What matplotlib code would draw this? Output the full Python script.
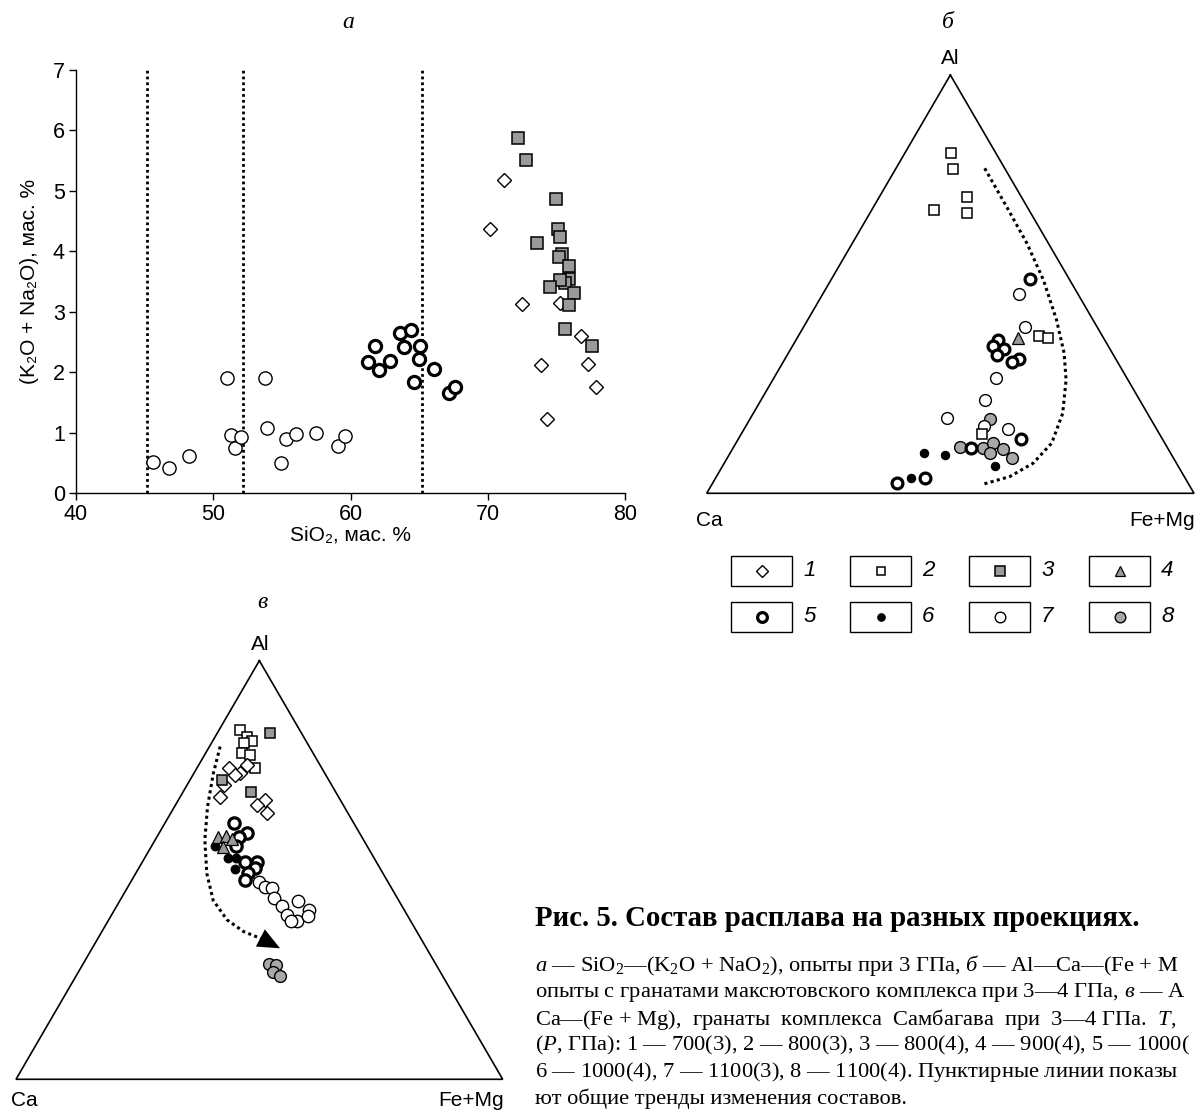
import numpy as np
import matplotlib
matplotlib.use("Agg")
import matplotlib.pyplot as plt
from matplotlib.patches import Rectangle, FancyArrowPatch

plt.rcParams['font.family'] = ['Liberation Sans', 'DejaVu Sans']
plt.rcParams['mathtext.fontset'] = 'custom'
plt.rcParams['mathtext.rm'] = 'Liberation Serif'
plt.rcParams['mathtext.it'] = 'Liberation Serif:italic'
plt.rcParams['mathtext.bf'] = 'Liberation Serif:bold'

# ---------------- Panel a: SiO2 vs (K2O+Na2O) ----------------
a_boundaries = [45.2, 52.2, 65.2]
a_xticks = [40, 50, 60, 70, 80]
a_yticks = [0, 1, 2, 3, 4, 5, 6, 7]

a_s7_x = [45.6, 46.8, 48.2, 51.0, 51.3, 51.6, 52.0, 53.8, 53.9, 54.9, 55.3, 56.0, 57.5, 59.1, 59.6]
a_s7_y = [0.51, 0.42, 0.61, 1.90, 0.96, 0.74, 0.92, 1.91, 1.07, 0.49, 0.89, 0.98, 0.99, 0.77, 0.94]
a_s5_x = [61.3, 61.8, 62.1, 62.9, 63.6, 63.9, 64.4, 64.6, 65.0, 65.1, 66.1, 67.2, 67.6]
a_s5_y = [2.16, 2.44, 2.04, 2.19, 2.65, 2.42, 2.70, 1.84, 2.22, 2.43, 2.06, 1.66, 1.76]
a_s1_x = [70.2, 71.2, 72.5, 73.9, 74.3, 75.3, 76.8, 77.3, 77.9]
a_s1_y = [4.37, 5.18, 3.13, 2.12, 1.22, 3.15, 2.59, 2.13, 1.76]
a_s3_x = [72.2, 72.8, 75.0, 75.1, 75.3, 73.6, 75.4, 75.2, 75.9, 75.9, 75.6, 75.3, 74.5, 76.3, 75.9, 75.6, 77.6]
a_s3_y = [5.88, 5.51, 4.86, 4.37, 4.24, 4.13, 3.96, 3.90, 3.76, 3.54, 3.47, 3.52, 3.41, 3.31, 3.11, 2.72, 2.44]

# ---------------- Panel b: Al-Ca-(Fe+Mg), Maksyutov garnets (values in %) ----------------
b_s2_al = [81.3, 77.5, 70.8, 67.7, 67.1, 37.6, 37.1, 14.2]
b_s2_fm = [9.4, 11.8, 18.1, 12.8, 19.8, 49.4, 51.4, 49.3]
b_s4_al = [37.1]
b_s4_fm = [45.4]
b_s5_al = [51.3, 36.7, 35.3, 34.4, 33.1, 32.2, 31.5, 13.1, 10.9, 2.5, 3.6]
b_s5_fm = [40.6, 41.5, 41.0, 43.9, 43.0, 47.9, 47.0, 57.9, 48.7, 37.9, 42.9]
b_s6_al = [9.6, 9.2, 3.6, 6.5]
b_s6_fm = [39.7, 44.2, 40.1, 55.9]
b_s7_al = [47.6, 39.8, 27.5, 22.2, 18.1, 16.2, 15.3]
b_s7_fm = [40.3, 45.4, 45.6, 46.1, 40.3, 48.9, 54.1]
b_s8_al = [17.7, 11.0, 10.9, 12.0, 10.5, 9.6, 8.4]
b_s8_fm = [49.3, 46.4, 51.3, 52.8, 55.5, 53.3, 58.4]
b_trend_al = [77.7, 68.5, 59.8, 51.0, 41.4, 33.5, 27.1, 19.1, 12.0, 7.2, 4.0, 2.2]
b_trend_fm = [18.2, 27.3, 35.8, 43.6, 51.1, 56.6, 60.2, 63.5, 64.8, 63.4, 60.2, 55.7]

# ---------------- Panel v: Al-Ca-(Fe+Mg), Sambagawa garnets (values in %) ----------------
v_s2_al = [83.4, 81.7, 80.9, 80.3, 77.9, 77.5, 74.3]
v_s2_fm = [4.3, 6.6, 8.0, 6.6, 7.4, 9.3, 12.0]
v_s3_al = [82.8, 71.5, 68.7]
v_s3_fm = [10.7, 6.5, 13.9]
v_s1_al = [74.3, 75.1, 73.1, 72.7, 70.3, 67.5, 66.7, 65.5, 63.5]
v_s1_fm = [6.7, 9.9, 9.5, 8.7, 7.6, 8.1, 17.8, 16.7, 19.8]
v_s5_al = [61.3, 58.9, 58.0, 55.7, 52.0, 51.8, 50.4, 49.2, 47.5]
v_s5_fm = [14.1, 18.0, 16.9, 17.4, 23.6, 21.2, 23.9, 23.1, 23.4]
v_s4_al = [58.0, 58.1, 57.3, 55.6]
v_s4_fm = [12.6, 14.2, 15.7, 14.8]
v_s6_al = [55.8, 52.8, 52.8, 50.2]
v_s6_fm = [13.0, 17.2, 18.8, 19.8]
v_s7_al = [47.2, 46.0, 45.8, 43.2, 41.4, 42.7, 39.3, 37.7, 40.4, 39.0, 37.7]
v_s7_fm = [26.4, 28.2, 29.6, 31.5, 33.9, 36.6, 36.1, 38.8, 39.9, 40.4, 37.6]
v_s8_al = [27.5, 27.3, 25.7, 24.7]
v_s8_fm = [38.3, 39.8, 40.0, 41.8]
v_trend_al = [79.5, 73.1, 65.1, 57.2, 49.2, 42.8, 38.1, 35.3, 33.4, 31.3]
v_trend_fm = [2.2, 4.0, 6.8, 10.2, 14.6, 19.1, 24.3, 29.1, 34.1, 38.6]

legend_labels = ['1', '2', '3', '4', '5', '6', '7', '8']

GREY_SQ = '#9a9a9a'
GREY_C = '#a8a8a8'

def style(kind, scale=1.0):
    st = {
        '1': dict(marker='D', ms=6.6, mfc='white', mec='black', mew=1.0),
        '2': dict(marker='s', ms=7.0, mfc='white', mec='black', mew=1.1),
        '3': dict(marker='s', ms=7.5, mfc=GREY_SQ, mec='black', mew=1.1),
        '4': dict(marker='^', ms=8.0, mfc=GREY_SQ, mec='black', mew=0.9),
        '5': dict(marker='o', ms=7.8, mfc='white', mec='black', mew=2.3),
        '6': dict(marker='o', ms=6.0, mfc='black', mec='black', mew=0.8),
        '7': dict(marker='o', ms=8.5, mfc='white', mec='black', mew=1.0),
        '8': dict(marker='o', ms=8.5, mfc=GREY_C, mec='black', mew=1.0),
    }[kind]
    st = dict(st)
    st['ms'] = st['ms'] * scale
    return st

def tern_xy(al, fm):
    al = np.asarray(al, float) / 100.0
    fm = np.asarray(fm, float) / 100.0
    return fm + al / 2.0, al * np.sqrt(3) / 2.0

W, H = 1196, 1112
fig = plt.figure(figsize=(W / 100, H / 100), dpi=100)

def px_axes(left, top, right, bottom):
    return fig.add_axes([left / W, 1 - bottom / H, (right - left) / W, (bottom - top) / H])

# ---------- Panel a ----------
axa = px_axes(76, 70, 625, 493)
axa.set_xlim(40, 80)
axa.set_ylim(0, 7)
for xb in a_boundaries:
    axa.axvline(xb, color='black', lw=2.0, ls=(0, (1, 1.1)), zorder=1)
axa.plot(a_s7_x, a_s7_y, ls='none', clip_on=False, zorder=3, **style('7', 1.12))
axa.plot(a_s5_x, a_s5_y, ls='none', clip_on=False, zorder=3, **style('5', 1.12))
axa.plot(a_s1_x, a_s1_y, ls='none', clip_on=False, zorder=3, **style('1', 1.12))
axa.plot(a_s3_x, a_s3_y, ls='none', clip_on=False, zorder=3, **style('3', 1.12))
axa.set_xticks(a_xticks)
axa.set_yticks(a_yticks)
for s in ['top', 'right']:
    axa.spines[s].set_visible(False)
for s in ['left', 'bottom']:
    axa.spines[s].set_linewidth(1.0)
axa.tick_params(direction='out', length=5, width=1.0, labelsize=15.5, pad=3)
axa.set_xlabel('SiO₂, мас. %', fontsize=15, labelpad=0)
axa.set_ylabel('(K₂O + Na₂O), мас. %', fontsize=15, labelpad=10)

# ---------- Ternary panels ----------
def ternary(left, top, right, bottom):
    ax = px_axes(left, top, right, bottom)
    ax.set_xlim(0, 1)
    ax.set_ylim(0, np.sqrt(3) / 2)
    ax.axis('off')
    tx, ty = tern_xy([100, 0, 0, 100], [0, 0, 100, 0])
    ax.plot(tx, ty, color='black', lw=1.2, clip_on=False, zorder=1,
            solid_joinstyle='miter')
    return ax

def tplot(ax, al, fm, kind, z, scale=1.0):
    x, y = tern_xy(al, fm)
    ax.plot(x, y, ls='none', clip_on=False, zorder=z, **style(kind, scale))

axb = ternary(706.7, 75, 1194, 493.3)
bx, by = tern_xy(b_trend_al, b_trend_fm)
axb.plot(bx, by, color='black', lw=2.2, ls=(0, (1, 1.1)), clip_on=False, zorder=2)
tplot(axb, b_s8_al, b_s8_fm, '8', 3, 1.0)
tplot(axb, b_s7_al, b_s7_fm, '7', 4, 1.0)
tplot(axb, b_s6_al, b_s6_fm, '6', 5, 1.0)
tplot(axb, b_s5_al, b_s5_fm, '5', 6, 1.0)
tplot(axb, b_s4_al, b_s4_fm, '4', 7, 1.0)
tplot(axb, b_s2_al, b_s2_fm, '2', 8, 1.0)

axv = ternary(16, 660.7, 502.7, 1079.3)
vx, vy = tern_xy(v_trend_al, v_trend_fm)
axv.plot(vx[:-1], vy[:-1], color='black', lw=2.2, ls=(0, (1, 1.1)), clip_on=False, zorder=2)
# arrow head at the end of the trend, pointing along the last segment
start = (vx[-1] - 2.0 * (vx[-1] - vx[-2]), vy[-1] - 2.0 * (vy[-1] - vy[-2]))
arr = FancyArrowPatch(start, (vx[-1], vy[-1]),
                      arrowstyle='-|>,head_length=1.6,head_width=0.7',
                      mutation_scale=10, fc='black', ec='none', lw=0,
                      shrinkA=0, shrinkB=0, zorder=2)
axv.add_patch(arr)
tplot(axv, v_s7_al, v_s7_fm, '7', 3, 1.05)
tplot(axv, v_s5_al, v_s5_fm, '5', 4, 1.05)
tplot(axv, v_s6_al, v_s6_fm, '6', 5, 1.05)
tplot(axv, v_s4_al, v_s4_fm, '4', 6, 1.05)
tplot(axv, v_s2_al, v_s2_fm, '2', 7, 1.1)
tplot(axv, v_s1_al, v_s1_fm, '1', 8, 1.1)
tplot(axv, v_s3_al, v_s3_fm, '3', 9, 1.05)
tplot(axv, v_s8_al, v_s8_fm, '8', 10, 1.0)

# ---------- Overlay (pixel coordinates) for text and legend ----------
ov = fig.add_axes([0, 0, 1, 1], zorder=-1)
ov.set_xlim(0, W)
ov.set_ylim(H, 0)
ov.axis('off')
ov.patch.set_alpha(0)

serif = ['Liberation Serif', 'DejaVu Serif']
sans = ['Liberation Sans', 'DejaVu Sans']

ov.text(348, 22, 'а', fontsize=17, family=serif, style='italic', ha='center', va='center')
ov.text(948, 22, 'б', fontsize=17, family=serif, style='italic', ha='center', va='center')
ov.text(262, 603, 'в', fontsize=17, family=serif, style='italic', ha='center', va='center')

ov.text(950, 58, 'Al', fontsize=15, family=sans, ha='center', va='center')
ov.text(696, 521, 'Ca', fontsize=15, family=sans, ha='left', va='center')
ov.text(1129, 521, 'Fe+Mg', fontsize=15, family=sans, ha='left', va='center')
ov.text(260, 645, 'Al', fontsize=15, family=sans, ha='center', va='center')
ov.text(11, 1101, 'Ca', fontsize=15, family=sans, ha='left', va='center')
ov.text(438, 1101, 'Fe+Mg', fontsize=15, family=sans, ha='left', va='center')

# legend
box_lefts = [731, 850, 969, 1089]
row_centers = [571, 617]
bw, bh = 61, 30
for i, lab in enumerate(legend_labels):
    r, c = divmod(i, 4)
    x0 = box_lefts[c]
    yc = row_centers[r]
    ov.add_patch(Rectangle((x0, yc - bh / 2), bw, bh, fill=False, ec='black', lw=1.0))
    ov.plot([x0 + bw / 2], [yc], ls='none', **style(lab, 0.9))
    ov.text(x0 + bw + 11, yc, lab, fontsize=16, family=sans, style='italic',
            ha='left', va='center')

# caption (the reference shows it cropped at the right edge of the picture)
ov.text(535, 918, 'Рис. 5. Состав расплава на разных проекциях.', fontsize=20.7,
        family=serif, weight='bold', ha='left', va='center')
G = '  '
cap_lines = [
    r'$\mathit{а}$ — SiO$_\mathrm{2}$—(K$_\mathrm{2}$O + NaO$_\mathrm{2}$), опыты при 3 ГПа, $\mathit{б}$ — Al—Ca—(Fe + M',
    r'опыты с гранатами максютовского комплекса при 3—4 ГПа, $\mathit{в}$ — A',
    'Ca—(Fe + Mg),' + G + 'гранаты' + G + 'комплекса' + G + 'Самбагава' + G + 'при' + G
    + '3—4 ГПа.' + G + r'$\mathit{T}$,',
    r'($\mathit{P}$, ГПа): $\mathit{1}$ — 700(3), $\mathit{2}$ — 800(3), $\mathit{3}$ — 800(4), $\mathit{4}$ — 900(4), $\mathit{5}$ — 1000(',
    r'$\mathit{6}$ — 1000(4), $\mathit{7}$ — 1100(3), $\mathit{8}$ — 1100(4). Пунктирные линии показы',
    r'ют общие тренды изменения составов.',
]
for k, line in enumerate(cap_lines):
    ov.text(535, 966 + k * 26.6, line, fontsize=16.2, family=serif,
            ha='left', va='center')

fig.savefig('out.png', dpi=100)
